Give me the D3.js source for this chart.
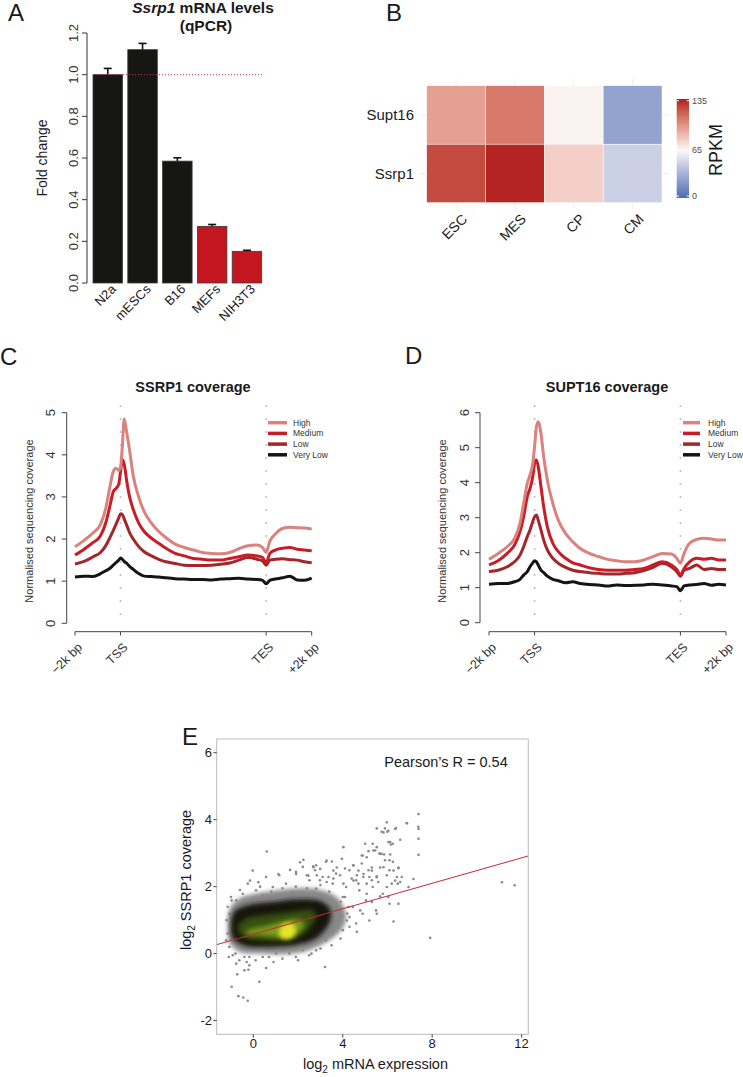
<!DOCTYPE html>
<html><head><meta charset="utf-8">
<script src="https://cdn.jsdelivr.net/npm/d3@7"></script>
<style>
body{margin:0;background:#fff;}
svg{font-family:"Liberation Sans",Arial,Helvetica,sans-serif;}
</style></head><body>
<svg id="fig" width="743" height="1077"></svg>
<script>
// ---------------- Panel A : qPCR ----------------
const qpcrCells = ["N2a","mESCs","B16","MEFs","NIH3T3"];
const qpcrFold  = [1.00, 1.12, 0.585, 0.272, 0.152];
const qpcrErr   = [0.03, 0.03, 0.016, 0.009, 0.005];
const qpcrGroup = ["dark","dark","dark","red","red"];
const qpcrTicks = [0.0,0.2,0.4,0.6,0.8,1.0,1.2];

// ---------------- Panel B : heatmap ----------------
const hmCols   = ["ESC","MES","CP","CM"];
const hmRows   = ["Supt16","Ssrp1"];
const hmSupt16 = [95, 108, 67, 26];
const hmSsrp1  = [123, 133, 79, 47];
const rpkmTicks = [0, 65, 135];

// ---------------- Panels C/D : metagene profiles ----------------
const profileBins = [0,5,10,14,17,19,21,22.5,24,25,26,27,28.5,30,32,35,38,42,46,50,55,60,65,70,75,80,85,90,95,100,103,105,107,110,114,118,122,126,130];
const profileTickPos = [0,25,105,130];
const profileTickLabels = ["\u22122k bp","TSS","TES","+2k bp"];
const profileGroups = ["High","Medium","Low","Very Low"];

const ssrp1High    = [1.82,1.97,2.15,2.35,2.75,3.2,3.6,3.68,3.63,3.7,4.2,4.85,4.5,4.1,3.5,3.0,2.65,2.38,2.18,2.03,1.88,1.80,1.74,1.68,1.66,1.65,1.68,1.77,1.84,1.86,1.80,1.68,1.95,2.12,2.25,2.28,2.27,2.26,2.24];
const ssrp1Medium  = [1.62,1.76,1.92,2.08,2.4,2.75,3.12,3.2,3.3,3.6,3.88,3.78,3.35,3.0,2.7,2.38,2.18,2.02,1.9,1.78,1.66,1.60,1.54,1.52,1.50,1.50,1.54,1.58,1.62,1.60,1.56,1.44,1.66,1.74,1.78,1.80,1.76,1.74,1.72];
const ssrp1Low     = [1.41,1.47,1.58,1.68,1.85,2.02,2.2,2.35,2.5,2.6,2.58,2.48,2.32,2.15,2.0,1.82,1.70,1.60,1.52,1.46,1.42,1.38,1.37,1.37,1.38,1.40,1.43,1.50,1.56,1.52,1.48,1.38,1.50,1.52,1.53,1.51,1.50,1.46,1.44];
const ssrp1VeryLow = [1.10,1.12,1.11,1.18,1.25,1.30,1.38,1.44,1.50,1.55,1.52,1.47,1.42,1.35,1.28,1.18,1.12,1.11,1.10,1.08,1.06,1.05,1.04,1.04,1.03,1.05,1.06,1.07,1.05,1.04,1.02,0.94,1.02,1.05,1.08,1.12,1.03,1.02,1.07];

const supt16High    = [1.81,1.98,2.17,2.41,2.84,3.41,3.98,4.22,4.55,5.03,5.6,5.74,5.41,4.74,4.08,3.41,2.93,2.55,2.31,2.12,1.98,1.89,1.81,1.77,1.74,1.74,1.79,1.89,1.98,1.96,1.84,1.70,1.98,2.27,2.38,2.41,2.39,2.36,2.36];
const supt16Medium  = [1.65,1.77,1.98,2.22,2.6,3.03,3.6,3.84,4.17,4.55,4.65,4.46,3.89,3.31,2.74,2.27,2.03,1.84,1.71,1.65,1.57,1.52,1.50,1.50,1.50,1.52,1.55,1.65,1.74,1.65,1.52,1.36,1.55,1.74,1.84,1.81,1.84,1.79,1.79];
const supt16Low     = [1.46,1.50,1.60,1.74,1.93,2.17,2.46,2.65,2.89,3.03,3.08,2.93,2.65,2.36,2.08,1.84,1.70,1.58,1.50,1.46,1.43,1.41,1.39,1.39,1.41,1.43,1.49,1.58,1.70,1.60,1.46,1.33,1.50,1.55,1.65,1.52,1.55,1.52,1.52];
const supt16VeryLow = [1.10,1.12,1.12,1.17,1.24,1.36,1.46,1.60,1.71,1.77,1.74,1.65,1.50,1.43,1.33,1.24,1.20,1.14,1.17,1.12,1.09,1.08,1.05,1.08,1.06,1.07,1.08,1.10,1.08,1.05,1.03,0.91,1.05,1.08,1.09,1.12,1.07,1.10,1.08];

// ---------------- Panel E : scatter ----------------
const scatterXTicks = [0,4,8,12];
const scatterYTicks = [-2,0,2,4,6];
const fitIntercept = 0.58, fitSlope = 0.19;
const pearsonLabel = "Pearson\u2019s R = 0.54";
const sparseGenes = [[7.39,4.17],[5.97,3.92],[5.52,3.74],[5.82,3.62],[6.04,3.67],[6.34,3.72],[6.87,3.89],[7.39,3.72],[7.39,3.43],[7.39,2.95],[6.57,3.40],[6.04,3.33],[6.15,3.26],[5.0,3.28],[5.34,3.28],[4.03,3.18],[0.60,3.05],[-0.03,2.48],[2.24,2.80],[3.28,2.78],[3.51,2.75],[5.37,3.08],[5.67,2.98],[5.85,2.96],[5.07,2.88],[6.49,2.55],[6.27,2.48],[5.82,2.58],[11.12,2.13],[11.69,2.04],[7.91,0.47],[3.21,-0.40],[-0.97,-0.99],[-0.67,-1.27],[-0.45,-1.31],[-0.25,-1.41],[0.27,-0.84],[-0.72,-0.62],[-0.22,-0.48],[0.57,-0.43],[6.27,0.96],[6.49,1.49],[5.67,1.71],[5.97,1.99],[6.57,2.14],[7.16,2.23],[6.34,2.18],[-0.97,1.59],[-0.15,2.18],[0.22,2.13],[1.12,2.38],[1.64,2.50],[1.91,2.38],[2.09,2.73],[2.69,2.58],[2.99,2.53],[2.46,2.33],[3.58,2.48],[3.96,2.83],[4.48,2.63],[4.70,2.48],[4.93,2.38],[5.30,2.48],[5.52,2.28],[4.48,2.18],[5.07,1.79],[4.78,1.29],[4.63,0.65],[5.52,1.19],[5.30,1.54],[4.10,1.69],[4.25,1.39],[3.73,0.94],[4.18,0.99],[6.04,1.69],
[6.86,3.90],[5.89,3.74],[5.74,3.64],[5.99,3.64],[6.38,3.75],[7.38,3.79],[6.12,3.33],[6.24,3.28],[5.52,3.18],[5.45,3.08],[4.85,2.93],[5.15,3.06],[5.74,2.98],[6.12,2.96],[5.89,2.79],[6.09,2.79],[2.68,2.61],[2.76,2.49],[3.73,2.57],[4.10,2.54],[4.47,2.64],[4.85,2.69],[5.15,2.49],[5.30,2.57],[5.67,2.57],[6.24,2.74],[6.49,2.57],[2.39,2.34],[2.84,2.34],[3.36,2.29],[3.58,2.24],[3.88,2.34],[4.40,2.24],[4.63,2.34],[4.92,2.29],[5.30,2.19],[5.52,2.31],[5.97,2.34],[6.42,2.29],[6.64,2.29],[6.19,2.09],[5.59,2.14],[5.07,2.09],[4.70,2.09],[4.03,2.09],[3.28,2.14],[2.98,2.19],[6.94,1.99],
[-0.25,2.09],[0.57,2.29],[1.16,2.34],[1.91,2.44],[2.21,2.59],[2.81,2.64],[3.25,2.74],[4.89,2.93],[5.64,2.99],[0.12,1.89],[0.87,1.99],[1.46,2.09],[2.51,2.19],[3.10,2.29],[3.70,2.39],[4.30,2.49],[4.60,2.19],[5.19,2.29],[6.09,2.49],[-0.77,1.59],[-0.47,1.79],[0.42,1.74],[1.76,1.84],[2.81,1.94],[3.55,2.09],[4.15,1.99],[4.74,1.89],[5.34,1.99],[5.79,1.79],[6.46,2.09],[5.04,1.59],[4.0,1.69],[4.45,1.39],[4.89,1.19],[5.49,1.29],[6.09,1.49],[4.30,1.09],[3.85,0.99],[4.60,0.90],[5.19,0.99],[4.0,0.70],[3.55,0.60],[3.25,0.40],[2.81,0.10],[2.21,0.10],[1.61,0.0],[1.02,0.0],[0.42,-0.10],[-0.18,-0.10],[-0.63,-0.20],[-0.92,-0.05],[-1.07,0.20],[-1.22,0.40],[-0.18,-0.35],[-0.40,-0.50],[-0.77,-0.30],[-1.0,1.69],[-1.07,1.19],
[-0.6,1.9],[0.3,2.0],[0.8,1.85],[1.3,1.95],[1.9,2.0],[2.4,1.95],[3.0,2.05],[3.4,1.85],[3.9,1.55],[4.2,1.2],[4.3,0.8],[3.9,0.45],[3.5,0.25],[3.0,0.15],[2.5,-0.05],[1.9,-0.1],[1.3,-0.15],[0.7,-0.1],[0.1,-0.2],[-0.4,-0.1],[-0.8,0.0],[-1.15,0.6],[-1.2,1.0],[-1.15,1.4],[-0.3,-0.25],[0.9,-0.25],[2.0,-0.2],[2.6,0.0],[-1.1,-0.1]];
const densityHalo   = [[-1.15,0.75],[-1.05,1.35],[-0.6,1.65],[0.2,1.8],[1.2,1.9],[2.2,1.95],[3.0,1.9],[3.7,1.7],[4.1,1.3],[4.1,0.9],[3.7,0.55],[3.0,0.25],[2.2,0.05],[1.2,-0.02],[0.2,0.0],[-0.6,0.05],[-1.05,0.3]];
const densityCore   = [[-1.0,0.8],[-0.85,1.25],[-0.2,1.45],[1.0,1.55],[2.2,1.62],[3.05,1.55],[3.45,1.3],[3.4,0.92],[2.8,0.45],[1.8,0.25],[0.6,0.2],[-0.45,0.25],[-0.9,0.45]];
const densityGreen  = [[-0.7,0.75],[-0.4,1.02],[0.55,1.15],[1.75,1.25],[2.6,1.3],[2.8,1.15],[2.45,0.72],[1.75,0.42],[0.6,0.38],[-0.4,0.48]];
const densityLight  = [[-0.3,0.68],[0.5,0.82],[1.3,0.95],[2.0,1.02],[2.3,0.9],[2.0,0.62],[1.2,0.5],[0.3,0.55],[-0.3,0.58]];
const densityYellow = [[1.15,0.55],[1.25,0.82],[1.6,0.92],[1.88,0.8],[1.85,0.55],[1.55,0.43],[1.3,0.45]];

// =====================================================================
const svg = d3.select("#fig");
const ink = "#1a1a1a";
function letter(t,x,y){ svg.append("text").attr("x",x).attr("y",y).attr("font-size",24).attr("fill",ink).text(t); }

// ---------------- Panel A ----------------
letter("A",8,21);
(function(){
  const g = svg.append("g");
  const x = d3.scaleBand().domain(qpcrCells).range([93,261.7]).paddingInner(0.152).paddingOuter(0);
  const y = d3.scaleLinear().domain([0,1.2]).range([283,33]);
  const t = g.append("text").attr("x",203).attr("y",13).attr("text-anchor","middle").attr("font-size",15.5).attr("font-weight","bold").attr("fill",ink);
  t.append("tspan").attr("font-style","italic").text("Ssrp1");
  t.append("tspan").text(" mRNA levels");
  g.append("text").attr("x",206).attr("y",30.5).attr("text-anchor","middle").attr("font-size",15.5).attr("font-weight","bold").attr("fill",ink).text("(qPCR)");
  g.append("line").attr("x1",87).attr("x2",87).attr("y1",y(0)).attr("y2",y(1.2)).attr("stroke","#333");
  qpcrTicks.forEach(v=>{
    g.append("line").attr("x1",82).attr("x2",87).attr("y1",y(v)).attr("y2",y(v)).attr("stroke","#333");
    g.append("text").attr("transform",`translate(78,${y(v)}) rotate(-90)`).attr("text-anchor","middle").attr("font-size",13).attr("fill","#333").text(v.toFixed(1));
  });
  g.append("text").attr("transform",`translate(47,158) rotate(-90)`).attr("text-anchor","middle").attr("font-size",14).attr("fill",ink).text("Fold change");
  qpcrCells.forEach((c,i)=>{
    const col = qpcrGroup[i]==="red" ? "#c4161e" : "#161614";
    g.append("rect").attr("x",x(c)).attr("width",x.bandwidth()).attr("y",y(qpcrFold[i])).attr("height",y(0)-y(qpcrFold[i]))
      .attr("fill",col).attr("stroke","#3a3a3a").attr("stroke-width",0.8);
    const cx = x(c)+x.bandwidth()/2;
    g.append("line").attr("x1",cx).attr("x2",cx).attr("y1",y(qpcrFold[i])).attr("y2",y(qpcrFold[i]+qpcrErr[i])).attr("stroke","#111").attr("stroke-width",1.6);
    g.append("line").attr("x1",cx-4).attr("x2",cx+4).attr("y1",y(qpcrFold[i]+qpcrErr[i])).attr("y2",y(qpcrFold[i]+qpcrErr[i])).attr("stroke","#111").attr("stroke-width",1.6);
    g.append("text").attr("transform",`translate(${cx+9},290) rotate(-45)`).attr("text-anchor","end").attr("font-size",13).attr("fill",ink).text(c);
  });
  g.append("line").attr("x1",93).attr("x2",263).attr("y1",y(1)).attr("y2",y(1)).attr("stroke","#d23a4a").attr("stroke-width",1).attr("stroke-dasharray","1,2");
})();

// ---------------- Panel B ----------------
letter("B",386,21);
(function(){
  const g = svg.append("g");
  const x = d3.scaleBand().domain(hmCols).range([426.7,662]);
  const y = d3.scaleBand().domain(hmRows).range([85.7,202.7]);
  const color = d3.scaleLinear().domain([0,65,135]).range(["#4a6db3","#fbf9f8","#b0191e"]).interpolate(d3.interpolateLab);
  hmCols.forEach(c=>{ const cx=x(c)+x.bandwidth()/2; g.append("line").attr("x1",cx).attr("x2",cx).attr("y1",79).attr("y2",209).attr("stroke","#eeeeee"); });
  hmRows.forEach(r=>{ const cy=y(r)+y.bandwidth()/2; g.append("line").attr("x1",420).attr("x2",669).attr("y1",cy).attr("y2",cy).attr("stroke","#eeeeee"); });
  const vals = {Supt16:hmSupt16, Ssrp1:hmSsrp1};
  hmRows.forEach(r=>{
    hmCols.forEach((c,i)=>{
      g.append("rect").attr("x",x(c)).attr("y",y(r)).attr("width",x.bandwidth()).attr("height",y.bandwidth())
        .attr("fill",color(vals[r][i])).attr("stroke","#ffffff").attr("stroke-width",0.5);
    });
    g.append("text").attr("x",414).attr("y",y(r)+y.bandwidth()/2+5.5).attr("text-anchor","end").attr("font-size",15).attr("fill",ink).text(r);
  });
  hmCols.forEach(c=>{
    const cx=x(c)+x.bandwidth()/2;
    g.append("text").attr("transform",`translate(${cx+12},220) rotate(-45)`).attr("text-anchor","end").attr("font-size",14).attr("fill",ink).text(c);
  });
  const cb = d3.scaleLinear().domain([0,135]).range([196,100.7]);
  const defs = svg.append("defs");
  const grad = defs.append("linearGradient").attr("id","rpkm").attr("x1",0).attr("x2",0).attr("y1",1).attr("y2",0);
  d3.range(0,136,5).forEach(v=>grad.append("stop").attr("offset",v/135).attr("stop-color",color(v)));
  g.append("rect").attr("x",676.7).attr("width",12.3).attr("y",99).attr("height",99).attr("fill","url(#rpkm)");
  rpkmTicks.forEach(v=>{
    g.append("line").attr("x1",676.7).attr("x2",679).attr("y1",cb(v)).attr("y2",cb(v)).attr("stroke","#fff");
    g.append("line").attr("x1",686.7).attr("x2",689).attr("y1",cb(v)).attr("y2",cb(v)).attr("stroke","#fff");
    g.append("text").attr("x",692).attr("y",cb(v)+3.2).attr("font-size",9).attr("fill","#4d4d4d").text(v);
  });
  g.append("text").attr("transform","translate(722,150) rotate(-90)").attr("text-anchor","middle").attr("font-size",18).attr("fill",ink).text("RPKM");
})();

// ---------------- Panels C & D ----------------
const lineColors = ["#db827c","#c91c26","#a3262a","#151515"];
function profilePanel(o){
  const g = svg.append("g");
  const x = d3.scaleLinear().domain([0,130]).range(o.xr);
  const y = d3.scaleLinear().domain([0,o.ymax]).range(o.yr);
  g.append("text").attr("x",o.titleX).attr("y",392).attr("text-anchor","middle").attr("font-size",14.5).attr("font-weight","bold").attr("fill",ink).text(o.title);
  [25,105].forEach(b=>g.append("line").attr("x1",x(b)).attr("x2",x(b)).attr("y1",406).attr("y2",624).attr("stroke","#bdbdbd").attr("stroke-width",2).attr("stroke-linecap","round").attr("stroke-dasharray","0,13"));
  g.append("line").attr("x1",o.ax).attr("x2",o.ax).attr("y1",y(0)).attr("y2",y(o.ymax)).attr("stroke","#444");
  d3.range(0,o.ymax+1).forEach(v=>{
    g.append("line").attr("x1",o.ax-5).attr("x2",o.ax).attr("y1",y(v)).attr("y2",y(v)).attr("stroke","#444");
    g.append("text").attr("transform",`translate(${o.ax-11.5},${y(v)}) rotate(-90)`).attr("text-anchor","middle").attr("font-size",13).attr("fill","#333").text(v);
  });
  g.append("text").attr("transform",`translate(${o.ax-34},521) rotate(-90)`).attr("text-anchor","middle").attr("font-size",11).attr("fill","#333").text("Normalised sequencing coverage");
  g.append("line").attr("x1",x(0)).attr("x2",x(130)).attr("y1",631.7).attr("y2",631.7).attr("stroke","#444");
  profileTickPos.forEach((p,i)=>{
    g.append("line").attr("x1",x(p)).attr("x2",x(p)).attr("y1",631.7).attr("y2",635.5).attr("stroke","#444");
    g.append("text").attr("transform",`translate(${x(p)+8},648) rotate(-45)`).attr("text-anchor","end").attr("font-size",12.5).attr("fill","#333").text(profileTickLabels[i]);
  });
  const line = d3.line().x((d,i)=>x(profileBins[i])).y(d=>y(d)).curve(d3.curveMonotoneX);
  o.series.slice().reverse().forEach((s,k)=>{
    const idx = o.series.length-1-k;
    g.append("path").attr("d",line(s)).attr("fill","none").attr("stroke",lineColors[idx]).attr("stroke-width",3).attr("stroke-linejoin","round");
  });
  profileGroups.forEach((nm,i)=>{
    const ly = 422.7 + i*10.7;
    g.append("line").attr("x1",o.lx).attr("x2",o.lx+o.lw).attr("y1",ly).attr("y2",ly).attr("stroke",lineColors[i]).attr("stroke-width",3.5);
    g.append("text").attr("x",o.tx).attr("y",ly+3).attr("font-size",8.5).attr("fill","#333").text(nm);
  });
}
letter("C",0,365);
profilePanel({title:"SSRP1 coverage",titleX:193,ax:66.7,xr:[75,311.7],yr:[623.3,412.7],ymax:5,lx:268,lw:19,tx:293,
  series:[ssrp1High,ssrp1Medium,ssrp1Low,ssrp1VeryLow]});
letter("D",405,363.5);
profilePanel({title:"SUPT16 coverage",titleX:607,ax:480,xr:[489,726],yr:[622.7,412.7],ymax:6,lx:683,lw:17,tx:708,
  series:[supt16High,supt16Medium,supt16Low,supt16VeryLow]});

// ---------------- Panel E ----------------
letter("E",182,745);
(function(){
  const g = svg.append("g");
  const x = d3.scaleLinear().domain([-1.64,12.3]).range([216.7,528.3]);
  const y = d3.scaleLinear().domain([-2.41,6.41]).range([1034.3,739]);
  const defs = svg.append("defs");
  defs.append("clipPath").attr("id","eclip").append("rect").attr("x",216.7).attr("y",739).attr("width",311.6).attr("height",295.3);
  [["b1",2.2],["b2",2.2],["b3",2.8],["b4",2.0]].forEach(([id,s])=>{
    defs.append("filter").attr("id",id).attr("x","-30%").attr("y","-30%").attr("width","160%").attr("height","160%")
      .append("feGaussianBlur").attr("stdDeviation",s);
  });
  const pg = g.append("g").attr("clip-path","url(#eclip)");
  const poly = d3.line().x(d=>x(d[0])).y(d=>y(d[1])).curve(d3.curveCatmullRomClosed);
  pg.append("path").attr("d",poly(densityHalo)).attr("fill","#6a6a6a").attr("opacity",0.8).attr("filter","url(#b1)");
  pg.selectAll("circle.g").data(sparseGenes).join("circle").attr("cx",d=>x(d[0])).attr("cy",d=>y(d[1])).attr("r",1.3).attr("fill","#8a8a8a");
  pg.append("path").attr("d",poly(densityCore)).attr("fill","#121410").attr("filter","url(#b2)");
  pg.append("path").attr("d",poly(densityGreen)).attr("fill","#34500e").attr("filter","url(#b3)");
  pg.append("path").attr("d",poly(densityLight)).attr("fill","#7c9c1a").attr("filter","url(#b3)");
  pg.append("path").attr("d",poly(densityYellow)).attr("fill","#e6e42a").attr("filter","url(#b4)");
  pg.append("line").attr("x1",x(-1.64)).attr("x2",x(12.3)).attr("y1",y(fitIntercept+fitSlope*-1.64)).attr("y2",y(fitIntercept+fitSlope*12.3))
    .attr("stroke","#c4283a").attr("stroke-width",1);
  g.append("rect").attr("x",216.7).attr("y",739).attr("width",311.6).attr("height",295.3).attr("fill","none").attr("stroke","#bbbbbb").attr("stroke-width",1);
  scatterXTicks.forEach(v=>{
    g.append("line").attr("x1",x(v)).attr("x2",x(v)).attr("y1",1034.3).attr("y2",1037.6).attr("stroke","#444");
    g.append("text").attr("x",x(v)).attr("y",1048).attr("text-anchor","middle").attr("font-size",13).attr("fill",ink).text(v);
  });
  scatterYTicks.forEach(v=>{
    g.append("line").attr("x1",213.4).attr("x2",216.7).attr("y1",y(v)).attr("y2",y(v)).attr("stroke","#444");
    g.append("text").attr("x",212).attr("y",y(v)+4.6).attr("text-anchor","end").attr("font-size",13).attr("fill",ink).text(v);
  });
  g.append("text").attr("x",446).attr("y",766.5).attr("text-anchor","middle").attr("font-size",14.5).attr("fill",ink).text(pearsonLabel);
  const xl = g.append("text").attr("x",375.5).attr("y",1069).attr("text-anchor","middle").attr("font-size",14.5).attr("fill",ink);
  xl.append("tspan").text("log");
  xl.append("tspan").attr("font-size",10).attr("dy",4).text("2");
  xl.append("tspan").attr("dy",-4).text(" mRNA expression");
  const yl = g.append("text").attr("transform","translate(191,880) rotate(-90)").attr("text-anchor","middle").attr("font-size",14.5).attr("fill",ink);
  yl.append("tspan").text("log");
  yl.append("tspan").attr("font-size",10).attr("dy",4).text("2");
  yl.append("tspan").attr("dy",-4).text(" SSRP1 coverage");
})();
</script>
</body></html>
